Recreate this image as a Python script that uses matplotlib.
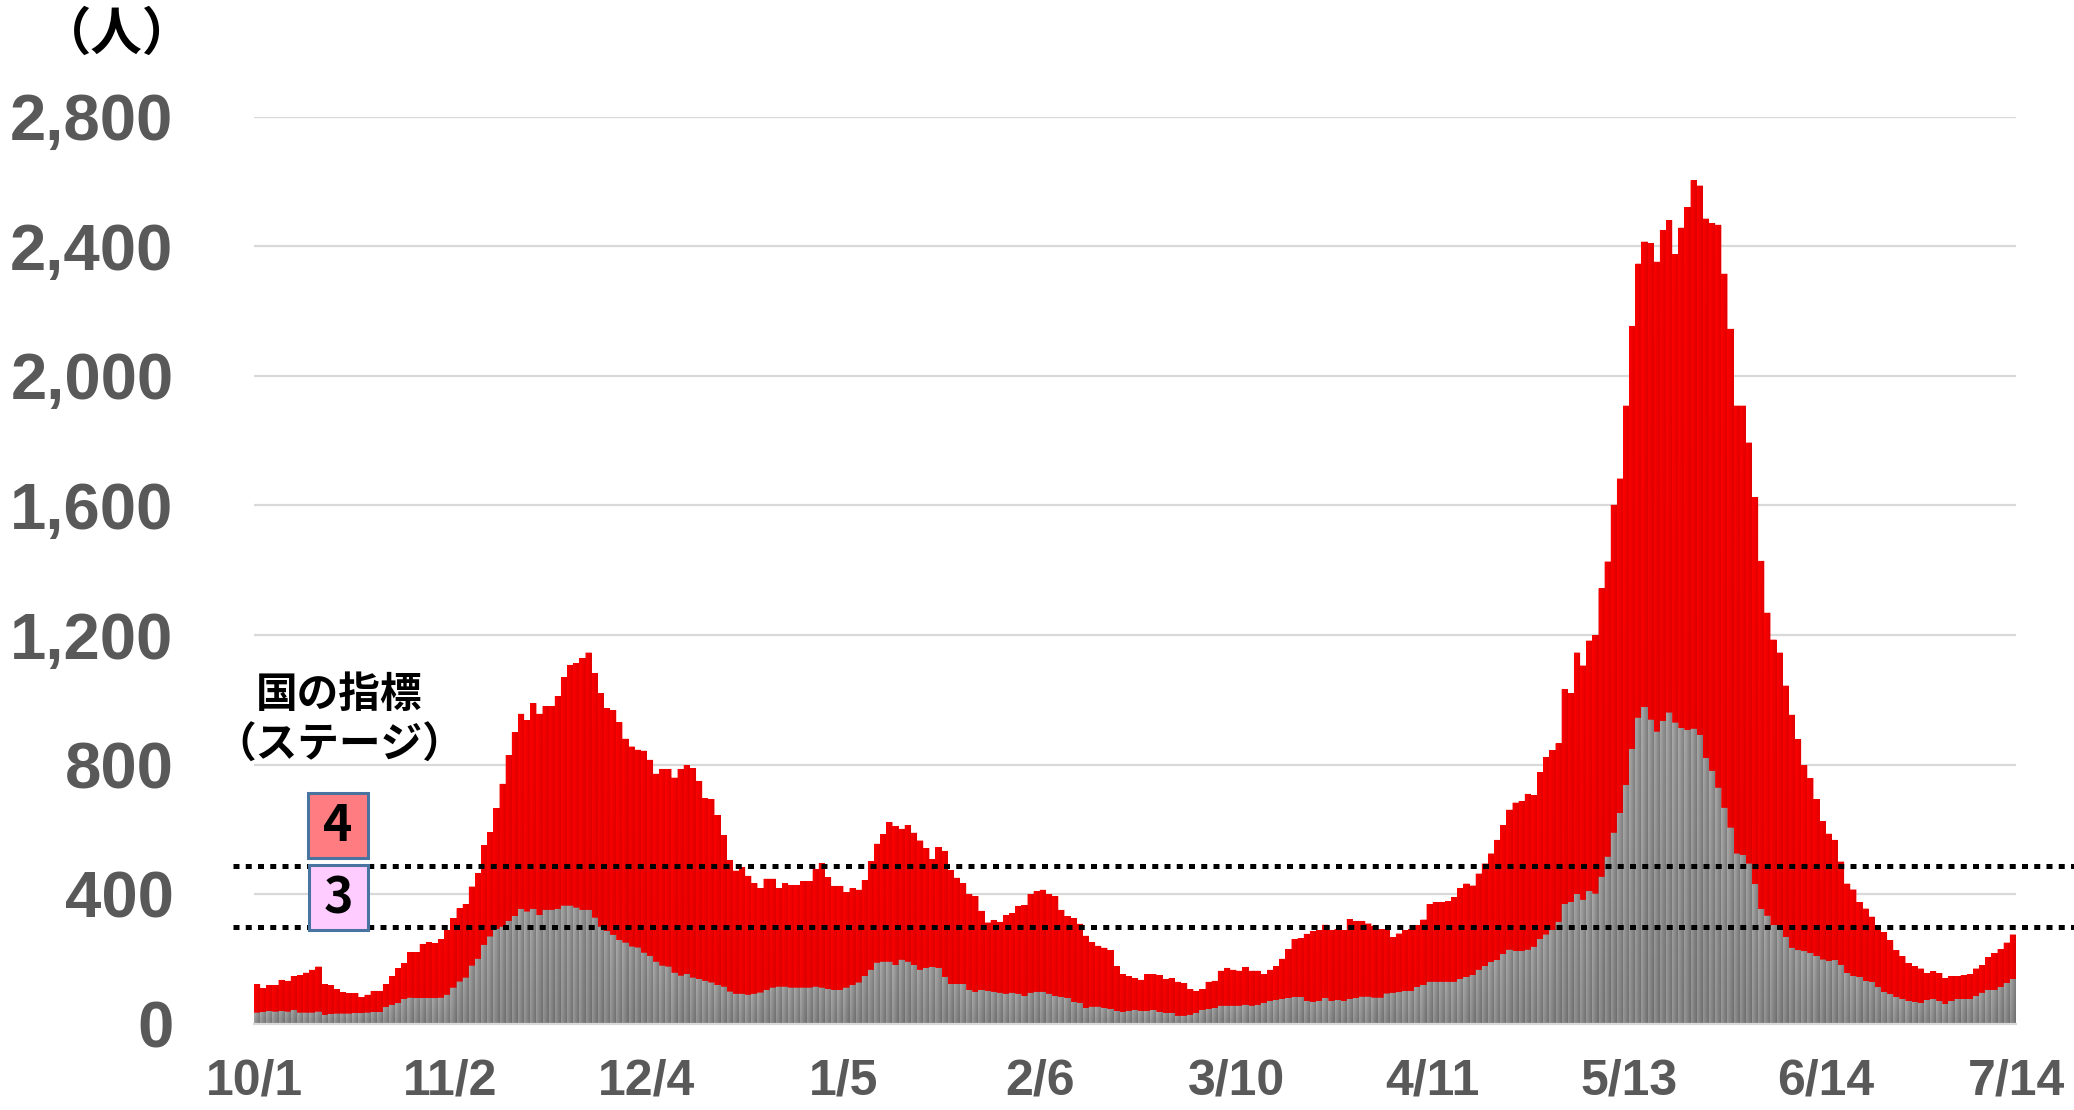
import numpy as np
import pandas as pd
import matplotlib
matplotlib.use("Agg")
import matplotlib.pyplot as plt
from matplotlib.patches import Rectangle, PathPatch
from matplotlib.path import Path
from matplotlib.transforms import blended_transform_factory

# ---------------- data ----------------
categories = [d.strftime("%-m/%-d") for d in pd.date_range("2020-10-01", "2021-07-14", freq="D")]

# total height of each daily bar (red top)
series_total = [
    123, 110, 120, 120, 136, 133, 148, 151, 158, 167, 177, 123, 120, 107, 98, 95, 95, 82, 90, 102,
    102, 123, 148, 172, 187, 221, 221, 247, 252, 249, 262, 290, 326, 357, 370, 424, 465,
    552, 591, 666, 741, 830, 900, 957, 938, 990, 957, 981, 981, 1012, 1070, 1108, 1113, 1129, 1146,
    1082, 1021, 974, 969, 931, 880, 856, 846, 843, 815, 772, 787, 787, 760, 787, 799, 789, 750,
    696, 694, 645, 583, 506, 473, 484, 457, 434, 419, 448, 448, 419, 434, 429, 429, 441, 441,
    477, 496, 453, 426, 426, 406, 419, 414, 444, 503, 556, 586, 623, 611, 602, 614, 590, 566,
    543, 509, 546, 534, 475, 451, 434, 401, 395, 349, 313, 321, 315, 336, 342, 364, 367, 401,
    410, 414, 401, 395, 352, 333, 327, 309, 272, 253, 241, 235, 228, 179, 154, 148, 142, 136,
    154, 154, 151, 139, 142, 130, 126, 108, 102, 108, 130, 133, 164, 173, 167, 164, 176, 164,
    164, 154, 167, 179, 201, 231, 262, 265, 278, 287, 290, 306, 290, 293, 290, 324, 318,
    318, 310, 301, 292, 292, 267, 279, 289, 292, 304, 322, 370, 375, 375, 379, 391, 419, 433,
    427, 464, 495, 526, 568, 614, 661, 683, 688, 710, 706, 777, 824, 845, 866, 1033, 1021, 1146,
    1106, 1183, 1200, 1344, 1427, 1602, 1683, 1908, 2154, 2346, 2414, 2410, 2352, 2450, 2481,
    2376, 2457, 2521, 2603, 2587, 2485, 2471, 2466, 2315, 2145, 1908, 1908, 1794, 1626, 1429,
    1269, 1186, 1146, 1044, 954, 878,
    799, 759, 694, 626, 587, 568, 501, 433, 415, 375, 356, 331, 298, 283, 258, 228, 209, 187,
    178, 171, 157, 163, 157, 141, 148, 148, 151, 154, 171, 181, 206, 218, 231, 251, 276,
]

# lower (gray) part of each daily bar
series_gray = [
    35, 37, 39, 38, 40, 38, 43, 35, 35, 35, 38, 28, 31, 32, 32, 32, 34, 33, 35, 37,
    37, 51, 59, 64, 77, 81, 79, 79, 79, 79, 81, 90, 112, 131, 143, 180, 201,
    244, 270, 293, 300, 318, 333, 355, 347, 355, 336, 352, 352, 355, 365, 365, 359, 352, 352,
    328, 300, 287, 275, 259, 251, 239, 236, 220, 210, 192, 180, 177, 158, 149, 154, 143, 139,
    133, 128, 120, 115, 100, 93, 93, 90, 93, 97, 105, 112, 115, 115, 112, 112, 112, 112,
    115, 112, 108, 105, 105, 112, 120, 128, 148, 167, 189, 192, 192, 182, 198, 192, 182, 167,
    173, 176, 173, 145, 123, 123, 123, 105, 99, 105, 102, 99, 96, 93, 96, 93, 86, 96,
    99, 99, 93, 86, 83, 80, 68, 65, 49, 53, 53, 49, 46, 40, 37, 40, 43, 40,
    40, 43, 37, 34, 34, 25, 25, 28, 34, 43, 46, 49, 56, 56, 56, 56, 59, 56,
    59, 65, 71, 74, 77, 80, 83, 83, 71, 68, 71, 80, 71, 74, 71, 77, 80,
    84, 84, 81, 81, 94, 96, 98, 101, 101, 114, 119, 130, 130, 130, 130, 130, 138, 145,
    151, 167, 178, 190, 197, 215, 229, 225, 225, 229, 238, 261, 276, 290, 315, 370, 375, 400,
    383, 409, 402, 454, 516, 590, 651, 736, 848, 945, 978, 939, 902, 935, 961,
    930, 913, 907, 911, 892, 821, 781, 729, 667, 606, 526, 521, 495, 431, 355,
    334, 305, 293, 267, 235, 227,
    224, 218, 209, 199, 193, 196, 181, 157, 148, 144, 132, 129, 113, 98, 92, 83, 77, 71,
    68, 64, 74, 77, 71, 61, 71, 77, 77, 77, 86, 96, 105, 105, 113, 126, 138,
]

x_tick_labels = ["10/1", "11/2", "12/4", "1/5", "2/6", "3/10", "4/11", "5/13", "6/14", "7/14"]
y_ticks = [0, 400, 800, 1200, 1600, 2000, 2400, 2800]
stage_levels = {"3": 298, "4": 488}
stage_colors = {"3": "#FFCCFF", "4": "#FF7C80"}

# ---------------- figure ----------------
W, H = 2074, 1110
fig = plt.figure(figsize=(W / 100, H / 100), dpi=100)
fig.patch.set_facecolor("white")

def fx(px):
    return px / W

def fy(py):
    return 1 - py / H

ax_left, ax_right, ax_top, ax_bottom = 254, 2016, 116.6, 1024
ax = fig.add_axes([fx(ax_left), fy(ax_bottom), (ax_right - ax_left) / W, (ax_bottom - ax_top) / H])

n = len(categories)
x = np.arange(n)
total = np.array(series_total, dtype=float)
gray = np.array(series_gray, dtype=float)

bars_total = ax.bar(x, total, width=1.0, color="#F40000", linewidth=0, zorder=2)
bars_gray = ax.bar(x, gray, width=1.0, color="#8E8E8E", linewidth=0, zorder=3)


def clip_patch(container):
    paths = [r.get_path().transformed(r.get_patch_transform()) for r in container.patches]
    comp = Path.make_compound_path(*paths)
    pp = PathPatch(comp, facecolor="none", edgecolor="none", transform=ax.transData)
    ax.add_patch(pp)
    return pp


sub = 12
cols = np.arange(n * sub)
bar_idx = cols // sub
s = (cols % sub + 0.5) / sub

# red gradient image (per-bar horizontal shading)
ymax_r = 2800.0
nr = 400
yr = (np.arange(nr) + 0.5) / nr * ymax_r
tr = np.clip(yr[:, None] / total[bar_idx][None, :], 0, 1)
red = (1.0 - 0.12 * s)[None, :] * (0.96 + 0.04 * tr)
img_r = np.zeros((nr, n * sub, 3))
img_r[..., 0] = red
im_r = ax.imshow(img_r, extent=(-0.5, n - 0.5, 0, ymax_r), origin="lower",
                 aspect="auto", zorder=2.5, interpolation="nearest")
im_r.set_clip_path(clip_patch(bars_total))

# gray gradient image
ymax_g = 1000.0
ng = 400
yg = (np.arange(ng) + 0.5) / ng * ymax_g
tg = np.clip(yg[:, None] / gray[bar_idx][None, :], 0, 1)
g = (0.67 - 0.18 * s)[None, :] * (0.88 + 0.12 * tg)
img_g = np.repeat(g[..., None], 3, axis=2)
im_g = ax.imshow(img_g, extent=(-0.5, n - 0.5, 0, ymax_g), origin="lower",
                 aspect="auto", zorder=3.5, interpolation="nearest")
im_g.set_clip_path(clip_patch(bars_gray))

ax.set_xlim(-0.5, n - 0.5)
ax.set_ylim(0, 2800)

# y axis
ax.set_yticks(y_ticks)
ax.set_yticklabels([f"{v:,}" for v in y_ticks], fontsize=47, fontweight="bold",
                   color="#595959", family="Liberation Sans")
ax.tick_params(axis="y", length=0, pad=58)
ax.yaxis.grid(True, color="#D9D9D9", linewidth=1.6)
ax.set_axisbelow(True)

# x axis
tick_pos = [categories.index(lbl) - 0.5 for lbl in x_tick_labels[:-1]] + [n - 0.5]
ax.set_xticks(tick_pos)
ax.set_xticklabels(x_tick_labels, fontsize=36, fontweight="bold",
                   color="#595959", family="Liberation Sans")
ax.tick_params(axis="x", which="major", length=0, pad=25)
ax.set_xticks(tick_pos[:-1], minor=True)
ax.tick_params(axis="x", which="minor", length=11, width=1.6, color="#D9D9D9", direction="out")

for sp in ("top", "left", "right"):
    ax.spines[sp].set_visible(False)
ax.spines["bottom"].set_color("#D9D9D9")
ax.spines["bottom"].set_linewidth(1.6)
ax.spines["bottom"].set_zorder(4)

# stage threshold dotted lines (extend beyond the plot area)
trans = blended_transform_factory(ax.transAxes, ax.transData)
x0 = (233 - ax_left) / (ax_right - ax_left)
x1 = (W - ax_left) / (ax_right - ax_left)
for key, lvl in stage_levels.items():
    ax.plot([x0, x1], [lvl, lvl], transform=trans, clip_on=False, color="black",
            linewidth=3.6, linestyle=(0, (1.2, 1.25)), dash_capstyle="butt", zorder=6)

# unit label
cjk = ["Noto Sans CJK JP", "DejaVu Sans"]
fig.text(fx(117), fy(34), "（人）", ha="center", va="center", fontsize=37,
         family=cjk, fontweight="bold", color="black")

# stage legend text
fig.text(fx(339), fy(695), "国の指標", ha="center", va="center", fontsize=30,
         family=cjk, fontweight="bold", color="black")
fig.text(fx(339), fy(746), "（ステージ）", ha="center", va="center", fontsize=30,
         family=cjk, fontweight="bold", color="black")

# stage boxes
boxes = {"4": (308, 793, 60, 65), "3": (309, 865, 59, 65)}
for key, (bx, by, bw, bh) in boxes.items():
    rect = Rectangle((fx(bx), fy(by + bh)), bw / W, bh / H, transform=fig.transFigure,
                     facecolor=stage_colors[key], edgecolor="#4A74A0", linewidth=2.2, zorder=10)
    fig.add_artist(rect)
    fig.text(fx(bx + bw / 2), fy(by + bh / 2 + 1), key, ha="center", va="center", fontsize=36,
             family=cjk, fontweight="bold", color="black", zorder=11)

fig.savefig("out.png", dpi=100, facecolor="white")
